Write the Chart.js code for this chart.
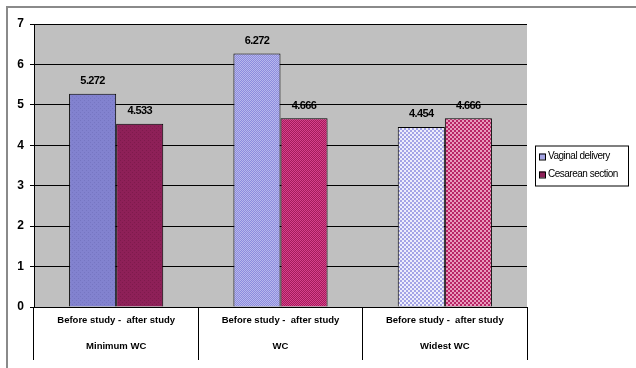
<!DOCTYPE html>
<html>
<head>
<meta charset="utf-8">
<style>
  html, body { margin: 0; padding: 0; background: #fff; }
  #wrap { width: 636px; height: 368px; position: relative; }
</style>
<script src="https://cdn.jsdelivr.net/npm/chart.js@4.4.1/dist/chart.umd.min.js"></script>
</head>
<body>
<div id="wrap"><canvas id="chart" width="636" height="368"></canvas></div>
<script>
// data
const groups = ["Minimum WC", "WC", "Widest WC"];
const subLabel = "Before study -  after study";
const vaginal = [5.272, 6.272, 4.454];
const cesarean = [4.533, 4.666, 4.666];
const seriesNames = ["Vaginal delivery", "Cesarean section"];
const yTicks = [0, 1, 2, 3, 4, 5, 6, 7];

const FONT = "'Liberation Sans Narrow', 'Arial Narrow', 'Liberation Sans', Arial, sans-serif";

// small fill patterns like the old excel ones
function makePattern(kind, a, b) {
  const c = document.createElement("canvas");
  c.width = 4; c.height = 4;
  const g = c.getContext("2d");
  if (kind === "solid") {
    g.fillStyle = a; g.fillRect(0, 0, 4, 4);
    g.fillStyle = b;
    g.fillRect(0, 0, 1, 1); g.fillRect(2, 2, 1, 1);
  } else if (kind === "checker") {
    for (let y = 0; y < 4; y++)
      for (let x = 0; x < 4; x++) {
        g.fillStyle = (x + y) % 2 ? a : b;
        g.fillRect(x, y, 1, 1);
      }
  } else {
    g.fillStyle = b; g.fillRect(0, 0, 4, 4);
    g.fillStyle = a;
    g.fillRect(0, 0, 2, 2); g.fillRect(2, 2, 2, 2);
  }
  return g.createPattern(c, "repeat");
}

const blueFills = [
  makePattern("solid", "#8282cf", "#7676c2"),
  makePattern("checker", "#8c8cde", "#b8b8ec"),
  makePattern("dots", "#a4a4e6", "#eeeefc")
];
const redFills = [
  makePattern("solid", "#8e2058", "#7e1a4c"),
  makePattern("checker", "#a21c5a", "#d8408c"),
  makePattern("dots", "#b82466", "#e89abc")
];

const plotBg = {
  id: "plotBg",
  beforeDraw(chart) {
    const { ctx, chartArea: a } = chart;
    ctx.save();
    // outer frame
    ctx.strokeStyle = "#8a8a8a";
    ctx.lineWidth = 2;
    ctx.beginPath();
    ctx.moveTo(7, 368); ctx.lineTo(7, 7); ctx.lineTo(636, 7);
    ctx.stroke();
    ctx.fillStyle = "#c0c0c0";
    ctx.fillRect(a.left, a.top, a.right - a.left, a.bottom - a.top);
    ctx.restore();
  }
};

const valueLabels = {
  id: "valueLabels",
  afterDatasetsDraw(chart) {
    const { ctx } = chart;
    ctx.save();
    ctx.font = "bold 11px " + FONT;
    ctx.letterSpacing = "-0.6px";
    ctx.fillStyle = "#000";
    ctx.textAlign = "center";
    ctx.textBaseline = "bottom";
    chart.data.datasets.forEach((ds, i) => {
      chart.getDatasetMeta(i).data.forEach((bar, j) => {
        ctx.fillText(ds.data[j].toFixed(3), bar.x, bar.y - 7);
      });
    });
    ctx.restore();
  }
};

const boxLegend = {
  id: "boxLegend",
  afterDraw(chart) {
    const { ctx, chartArea: a } = chart;
    const x = a.right + 8, w = 93, h = 40;
    const y = (a.top + a.bottom) / 2 - h / 2;
    ctx.save();
    ctx.fillStyle = "#fff";
    ctx.fillRect(x, y, w, h);
    ctx.strokeStyle = "#000";
    ctx.lineWidth = 1;
    ctx.strokeRect(x + 0.5, y + 0.5, w, h);
    ctx.font = "10px " + FONT;
    ctx.letterSpacing = "-0.5px";
    ctx.textBaseline = "middle";
    const marks = ["#a4a4e4", "#8e2058"];
    chart.data.datasets.forEach((ds, i) => {
      const cy = y + 11 + i * 18;
      ctx.fillStyle = marks[i];
      ctx.fillRect(x + 4, cy - 3, 6, 6);
      ctx.strokeRect(x + 4.5, cy - 2.5, 6, 6);
      ctx.fillStyle = "#000";
      ctx.fillText(ds.label, x + 13, cy);
    });
    ctx.restore();
  }
};

new Chart(document.getElementById("chart"), {
  type: "bar",
  data: {
    labels: groups.map(g => [subLabel, g]),
    datasets: [
      {
        label: seriesNames[0],
        data: vaginal,
        backgroundColor: blueFills,
        borderColor: "#000",
        borderWidth: 1,
        categoryPercentage: 0.573,
        barPercentage: 1
      },
      {
        label: seriesNames[1],
        data: cesarean,
        backgroundColor: redFills,
        borderColor: "#000",
        borderWidth: 1,
        categoryPercentage: 0.573,
        barPercentage: 1
      }
    ]
  },
  options: {
    responsive: false,
    animation: false,
    layout: { padding: { left: 8, top: 24, right: 109, bottom: 0 } },
    plugins: {
      legend: { display: false },
      tooltip: { enabled: false }
    },
    scales: {
      x: {
        grid: {
          offset: true,
          drawOnChartArea: false,
          color: "#000",
          tickLength: 53
        },
        border: { color: "#000" },
        ticks: {
          color: "#000",
          font: { family: FONT, size: 9.5, weight: "bold", lineHeight: 2.7 },
          padding: -52,
          maxRotation: 0,
          autoSkip: false
        },
        afterFit(scale) { scale.height = 61; }
      },
      y: {
        min: 0,
        max: 7,
        afterBuildTicks(scale) { scale.ticks = yTicks.map(v => ({ value: v })); },
        grid: { color: "#000", tickLength: 4 },
        border: { color: "#000" },
        ticks: {
          color: "#000",
          padding: 6,
          font: { family: FONT, size: 12, weight: "bold" }
        },
        afterFit(scale) { scale.width = 26; }
      }
    }
  },
  plugins: [plotBg, valueLabels, boxLegend]
});
</script>
</body>
</html>
